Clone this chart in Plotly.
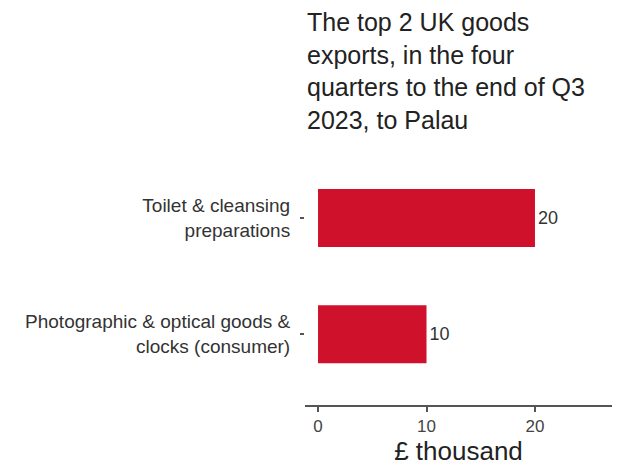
import plotly.graph_objects as go

categories = ["Photographic & optical goods &<br>clocks (consumer)", "Toilet & cleansing<br>preparations"]
values = [10, 20]
value_labels = ["10", "20"]
x_ticks = [0, 10, 20]
title_text = "The top 2 UK goods<br>exports, in the four<br>quarters to the end of Q3<br>2023, to Palau"

FONT = "Liberation Sans"

fig = go.Figure(go.Bar(
    y=categories, x=values, orientation="h",
    marker=dict(color="#d0112b", line=dict(width=0)),
    width=0.5,
    text=value_labels, textposition="outside",
    textfont=dict(size=18, color="#333333", family=FONT),
    cliponaxis=False,
))

fig.update_layout(
    width=633, height=473,
    margin=dict(l=297, r=29, t=142, b=76, autoexpand=False),
    paper_bgcolor="white", plot_bgcolor="white",
    font=dict(family=FONT, color="#333333"),
    showlegend=False,
    annotations=[dict(
        text=title_text, xref="paper", yref="paper", x=0, y=1,
        xanchor="left", yanchor="bottom", yshift=14, align="left",
        showarrow=False, font=dict(size=25, color="#222222", family=FONT),
    )],
)
fig.update_xaxes(
    range=[-1.2, 27.1], tickvals=x_ticks, showgrid=False, zeroline=False,
    showline=True, linecolor="#555555", linewidth=2,
    ticks="outside", ticklen=5, tickcolor="#555555", tickwidth=1.5,
    tickfont=dict(size=17, color="#444444"),
    title=dict(text="£ thousand", font=dict(size=26, color="#222222"), standoff=4),
)
fig.update_yaxes(
    range=[-0.61, 1.586], showgrid=False, zeroline=False, showline=False,
    ticks="outside", ticklen=4, tickcolor="#555555", tickwidth=1.5,
    tickfont=dict(size=19, color="#333333"), ticklabelstandoff=6,
)

fig.write_html("out.html")
